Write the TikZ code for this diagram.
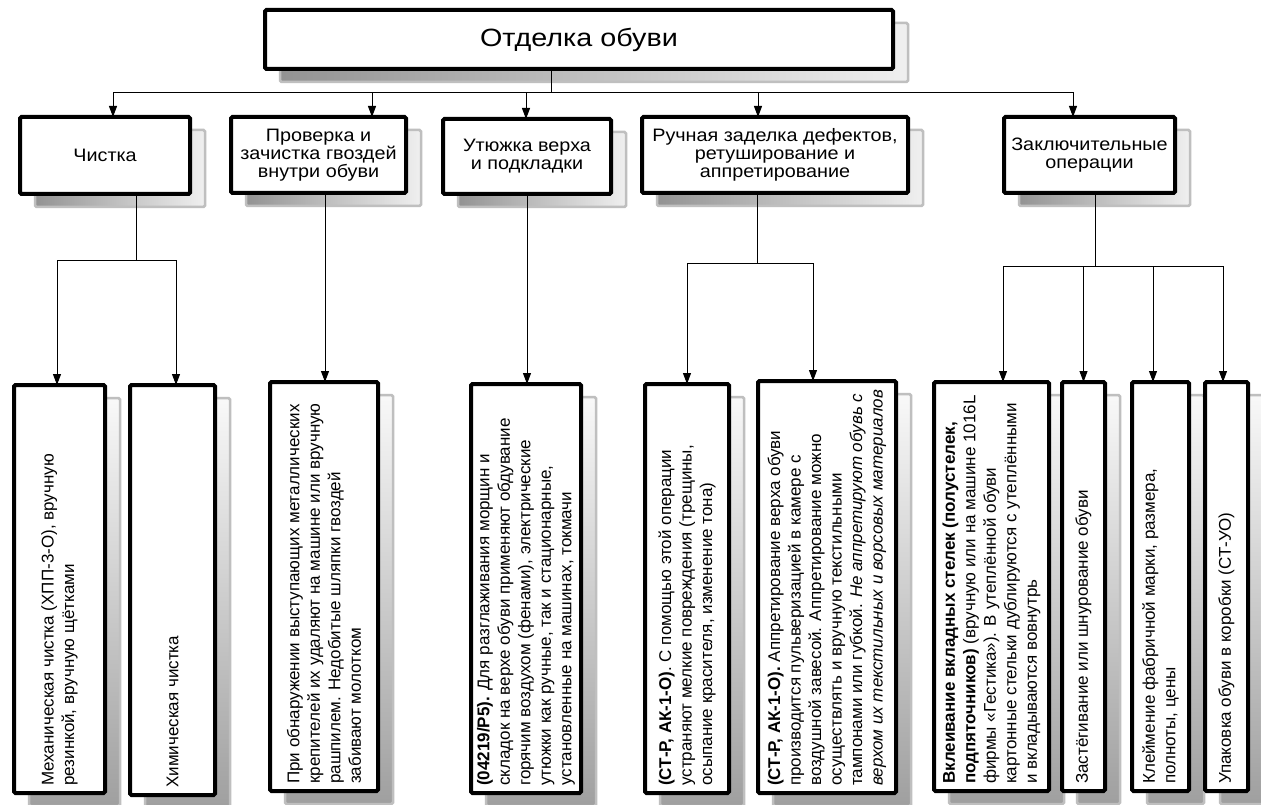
\documentclass[tikz,border=0pt]{standalone}
\usepackage{fontspec}
\setmainfont{Liberation Sans}
\newfontfamily\lvfont[FakeStretch=1.1]{Liberation Sans}
\newfontfamily\ttlfont[FakeStretch=1.15]{Liberation Sans}
\usetikzlibrary{arrows.meta,calc}
\pgfdeclarelayer{bg}
\pgfsetlayers{bg,main}
\tikzset{
 bx/.style={draw=black, line width=4pt, fill=white, rounded corners=1.5pt, inner sep=0pt, outer sep=0pt},
 hshadow/.style={left color=gray!85, right color=gray!12, draw=gray!50, line width=2.5pt, rounded corners=1.5pt},
 vshadow/.style={bottom color=gray!75, top color=gray!5, draw=gray!50, line width=2.5pt, rounded corners=1.5pt},
 conn/.style={line width=1pt, draw=black},
 arr/.style={conn, -{Triangle[length=11pt,width=8pt]}},
 lvtext/.style={font=\lvfont\fontsize{18}{18}\selectfont, align=center},
 btxt/.style={font=\fontsize{17}{20.5}\selectfont, rotate=90, anchor=west, align=left, inner sep=0pt},
}
\newcommand\mkbox[7]{\node[bx,minimum width={#4-#2-4},minimum height={#5-#3-4},#6] (#1) at ({(#2+#4)/2},{-(#3+#5)/2}) {#7};}
\newcommand\mkshadow[2]{\path[#2] ([shift={(15,-13)}]#1.south west) rectangle ([shift={(15,-13)}]#1.north east);}
\begin{document}
\begin{tikzpicture}[x=1pt,y=1pt]
\useasboundingbox (0,0) rectangle (1261,-805);
% title
\mkbox{title}{263}{8}{895}{71}{font=\ttlfont\fontsize{25}{30}\selectfont}{Отделка обуви}
% level 2
\mkbox{l1}{18}{115}{192}{196}{lvtext}{Чистка}
\mkbox{l2}{229}{115}{408}{195}{lvtext}{Проверка и\\зачистка гвоздей\\внутри обуви}
\mkbox{l3}{441}{117}{613}{196}{lvtext}{Утюжка верха\\и подкладки}
\mkbox{l4}{640}{115}{910}{195}{lvtext}{Ручная заделка дефектов,\\ретуширование и\\аппретирование}
\mkbox{l5}{1002}{115}{1177}{195}{lvtext}{Заключительные\\операции}
% bottom boxes
\mkbox{b1}{12}{383}{107}{795}{}{}
\mkbox{b2}{128}{383}{217}{797}{}{}
\mkbox{b3}{268}{380}{380}{793}{}{}
\mkbox{b4}{469}{382}{583}{795}{}{}
\mkbox{b5}{643}{382}{731}{795}{}{}
\mkbox{b6}{756}{379}{898}{795}{}{}
\mkbox{b7}{932}{380}{1051}{793}{}{}
\mkbox{b8}{1060}{380}{1107}{793}{}{}
\mkbox{b9}{1130}{380}{1191}{793}{}{}
\mkbox{b10}{1203}{380}{1250}{793}{}{}
% texts of bottom boxes
\node[btxt] (t1) at ([yshift=7]b1.south) {Механическая чистка (ХПП-3-О), вручную\\резинкой, вручную щётками};
\node[btxt] (t2) at ([yshift=7]b2.south) {Химическая чистка};
\node[btxt] (t3) at ([yshift=7]b3.south) {При обнаружении выступающих металлических\\крепителей их удаляют на машине или вручную\\рашпилем. Недобитые шляпки гвоздей\\забивают молотком};
\node[btxt] (t4) at ([yshift=7]b4.south) {{\bfseries (04219/P5).} Для разглаживания морщин и\\складок на верхе обуви применяют обдувание\\горячим воздухом (фенами), электрические\\утюжки как ручные, так и стационарные,\\установленные на машинах, токмачи};
\node[btxt] (t5) at ([yshift=7]b5.south) {{\bfseries (СТ-Р, АК-1-О)}. С помощью этой операции\\устраняют мелкие повреждения (трещины,\\осыпание красителя, изменение тона)};
\node[btxt] (t6) at ([yshift=7]b6.south) {{\bfseries (СТ-Р, АК-1-О).} Аппретирование верха обуви\\производится пульверизацией в камере с\\воздушной завесой. Аппретирование можно\\осуществлять и вручную текстильными\\тампонами или губкой. {\itshape Не аппретируют обувь с}\\{\itshape верхом их текстильных и ворсовых материалов}};
\node[btxt] (t7) at ([yshift=7]b7.south) {{\bfseries Вклеивание вкладных стелек (полустелек,}\\{\bfseries подпяточников)} (вручную или на машине 1016L\\фирмы «Гестика»). В утеплённой обуви\\картонные стельки дублируются с утеплёнными\\и вкладываются вовнутрь};
\node[btxt] (t8) at ([yshift=7]b8.south) {Застёгивание или шнурование обуви};
\node[btxt] (t9) at ([yshift=7]b9.south) {Клеймение фабричной марки, размера,\\полноты, цены};
\node[btxt] (t10) at ([yshift=7]b10.south) {Упаковка обуви в коробки (СТ-УО)};
% shadows
\begin{pgfonlayer}{bg}
\fill[white] (0,0) rectangle (1261,-805);
\mkshadow{title}{hshadow}
\mkshadow{l1}{hshadow}
\mkshadow{l2}{hshadow}
\mkshadow{l3}{hshadow}
\mkshadow{l4}{hshadow}
\mkshadow{l5}{hshadow}
\mkshadow{b1}{vshadow}
\mkshadow{b2}{vshadow}
\mkshadow{b3}{vshadow}
\mkshadow{b4}{vshadow}
\mkshadow{b5}{vshadow}
\mkshadow{b6}{vshadow}
\mkshadow{b7}{vshadow}
\mkshadow{b8}{vshadow}
\mkshadow{b9}{vshadow}
\mkshadow{b10}{vshadow}
\end{pgfonlayer}
% connectors level 1 -> level 2
\coordinate (hub) at (551,-93);
\draw[conn] (title.south -| hub) -- (hub);
\draw[arr] (hub) -| ([xshift=8]l1.north);
\draw[arr] (hub) -| ([xshift=53.5]l2.north);
\draw[arr] (hub) -| ([xshift=-1]l3.north);
\draw[arr] (hub) -| ([xshift=-17]l4.north);
\draw[arr] (hub) -| ([xshift=-16.5]l5.north);
% level 2 -> bottom
\coordinate (j1) at (136,-260);
\draw[conn] (l1.south -| j1) -- (j1);
\draw[arr] (j1) -| ([xshift=-2.5]b1.north);
\draw[arr] (j1) -| ([xshift=3.5]b2.north);
\draw[arr] ([xshift=6.5]l2.south) -- ([xshift=6.5]l2.south |- b3.north);
\draw[arr] (l3.south) -- (l3.south |- b4.north);
\coordinate (j4) at (757,-263);
\draw[conn] (l4.south -| j4) -- (j4);
\draw[arr] (j4) -| (b5.north);
\draw[arr] (j4) -| ([xshift=-14]b6.north);
\coordinate (j5) at (1095,-266);
\draw[conn] (l5.south -| j5) -- (j5);
\draw[arr] (j5) -| ([xshift=11.5]b7.north);
\draw[arr] (j5) -| (b8.north);
\draw[arr] (j5) -| ([xshift=-7.5]b9.north);
\draw[arr] (j5) -| ([xshift=-3.5]b10.north);
\end{tikzpicture}
\end{document}
